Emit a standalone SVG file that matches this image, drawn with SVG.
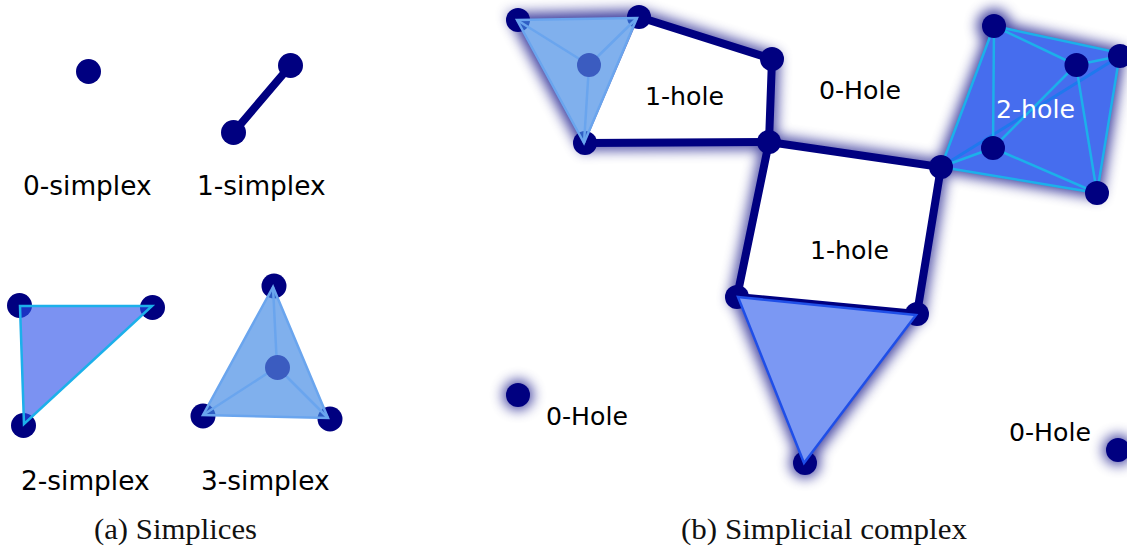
<svg xmlns="http://www.w3.org/2000/svg" width="1127" height="550" viewBox="0 0 1127 550">
<style>
.n{fill:#000080}
.e{stroke:#000080;stroke-width:8;fill:none;stroke-linecap:round}
.l{font-family:"DejaVu Sans",sans-serif;font-size:26.4px;fill:#000}
.h{font-family:"DejaVu Sans",sans-serif;font-size:25.2px;fill:#000}
.c{font-family:"Liberation Serif",serif;font-size:29px;fill:#111}
.t3{fill:#448ae5;fill-opacity:.68;stroke:#6aa5ee;stroke-width:2.500}
.i3{stroke:#6aa5ee;stroke-width:2.500;fill:none}
.ctr{fill:#3b5cc0}
.cy{stroke:#1cb0ea;stroke-width:2.500;fill:none}
</style>
<defs><filter id="g" x="-30%" y="-30%" width="160%" height="160%"><feGaussianBlur stdDeviation="6.500"/></filter></defs>
<rect width="1127" height="550" fill="#fff"/>
<g id="glow" filter="url(#g)" fill="#000080" stroke="#000080" opacity=".75">
<path d="M518 20L639 17L772 59L769 142L585 143Z" fill="none" stroke-width="14"/>
<path d="M769 142L941 167L917 314L737 297Z" fill="none" stroke-width="14"/>
<path d="M518 20L639 17L585 143Z" stroke-width="10"/>
<path d="M737 297L917 314L805 463Z" stroke-width="10"/>
<path d="M941 167L994 26L1120 53L1097 193Z" stroke-width="10"/>
<circle cx="518" cy="395" r="15" stroke="none"/>
<circle cx="1118" cy="450" r="15" stroke="none"/>
<circle cx="994" cy="26" r="17" stroke="none"/>
<circle cx="805" cy="463" r="15" stroke="none"/>
</g>
<g id="hole-interiors" fill="#fff">
<path d="M639 17L772 59L769 142L585 143Z"/>
<path d="M769 142L941 167L917 314L737 297Z"/>
<path d="M517 20L637 18L584 143Z"/>
</g>
<g id="connectors">
<path class="e" d="M290.500 65.500L233.500 132.500"/>
<path class="e" d="M639 17L772 59L769 142L585 143"/>
<path class="e" d="M769 142L941 167L917 314L737 297L769 142"/>
</g>
<g id="simplex-0"><circle class="n" cx="88.500" cy="71.500" r="12.500"/></g>
<g id="simplex-1"><circle class="n" cx="290.500" cy="65.500" r="12.500"/><circle class="n" cx="233.500" cy="132.500" r="12.500"/></g>
<g id="simplex-2">
<circle class="n" cx="19.500" cy="305.500" r="12.500"/><circle class="n" cx="152.500" cy="307.500" r="12.500"/><circle class="n" cx="23.500" cy="425.500" r="12.500"/>
<path d="M20 306L152 306L24 424Z" fill="#2a4fea" fill-opacity=".62" stroke="#1cb0ea" stroke-width="2.500"/>
</g>
<g id="simplex-3">
<circle class="n" cx="274" cy="286" r="12.500"/><circle class="n" cx="203" cy="416" r="12.500"/><circle class="n" cx="330" cy="419" r="12.500"/>
<path class="t3" d="M273 287L203 415L328 418Z"/>
<path class="i3" d="M273 287L277 367M203 415L277 367M328 418L277 367"/>
<circle class="ctr" cx="277.500" cy="367.500" r="12.500"/>
</g>
<g id="complex-triangle-top">
<circle class="n" cx="518" cy="20" r="12"/><circle class="n" cx="639" cy="17" r="12"/><circle class="n" cx="585" cy="143" r="12"/>
<path class="t3" d="M517 20L637 18L584 143Z"/>
<path class="i3" d="M517 20L589 65M637 18L589 65M584 143L589 65"/>
<circle class="ctr" cx="589" cy="65" r="12"/>
</g>
<g id="complex-nodes-mid">
<circle class="n" cx="772" cy="59" r="12"/><circle class="n" cx="769" cy="142" r="12"/>
<circle class="n" cx="737" cy="297" r="12"/><circle class="n" cx="917" cy="314" r="12"/><circle class="n" cx="805" cy="463" r="12"/>
</g>
<g id="complex-triangle-bottom">
<path d="M738 297L916 315L804 463Z" fill="#7b98f3" stroke="#1f4fe8" stroke-width="2.500"/>
</g>
<g id="complex-tetra">
<path d="M941 167L994 26L1120 53L1097 193Z" fill="#466dee"/>
<path d="M941 167L1120 56" stroke="#1f78ee" stroke-width="3" fill="none"/>
<path class="cy" d="M941 167L994 26L1120 53L1097 193Z"/>
<path class="cy" d="M994 26L1076 65M994 26L993 148M1076 65L1120 56M1076 65L993 148M1076 65L1097 193M993 148L941 167M993 148L1097 193"/>
<circle class="n" cx="994" cy="26" r="12"/><circle class="n" cx="1120" cy="56" r="12"/><circle class="n" cx="1076.500" cy="65" r="12"/><circle class="n" cx="993" cy="148" r="12"/><circle class="n" cx="941" cy="167" r="12"/><circle class="n" cx="1097" cy="193" r="12"/>
</g>
<g id="isolated"><circle class="n" cx="518" cy="395" r="12"/><circle class="n" cx="1118" cy="450" r="12"/></g>
<g id="labels">
<text class="l" x="23" y="195">0-simplex</text>
<text class="l" x="197" y="195">1-simplex</text>
<text class="l" x="21" y="490">2-simplex</text>
<text class="l" x="201" y="490">3-simplex</text>
<text class="h" x="645" y="105">1-hole</text>
<text class="h" x="819" y="99">0-Hole</text>
<text class="h" x="996" y="118" style="fill:#fff">2-hole</text>
<text class="h" x="810" y="259">1-hole</text>
<text class="h" x="546" y="425">0-Hole</text>
<text class="h" x="1009" y="441">0-Hole</text>
<text class="c" x="94" y="539" textLength="163" lengthAdjust="spacingAndGlyphs">(a) Simplices</text>
<text class="c" x="681" y="539" textLength="286" lengthAdjust="spacingAndGlyphs">(b) Simplicial complex</text>
</g>
</svg>
